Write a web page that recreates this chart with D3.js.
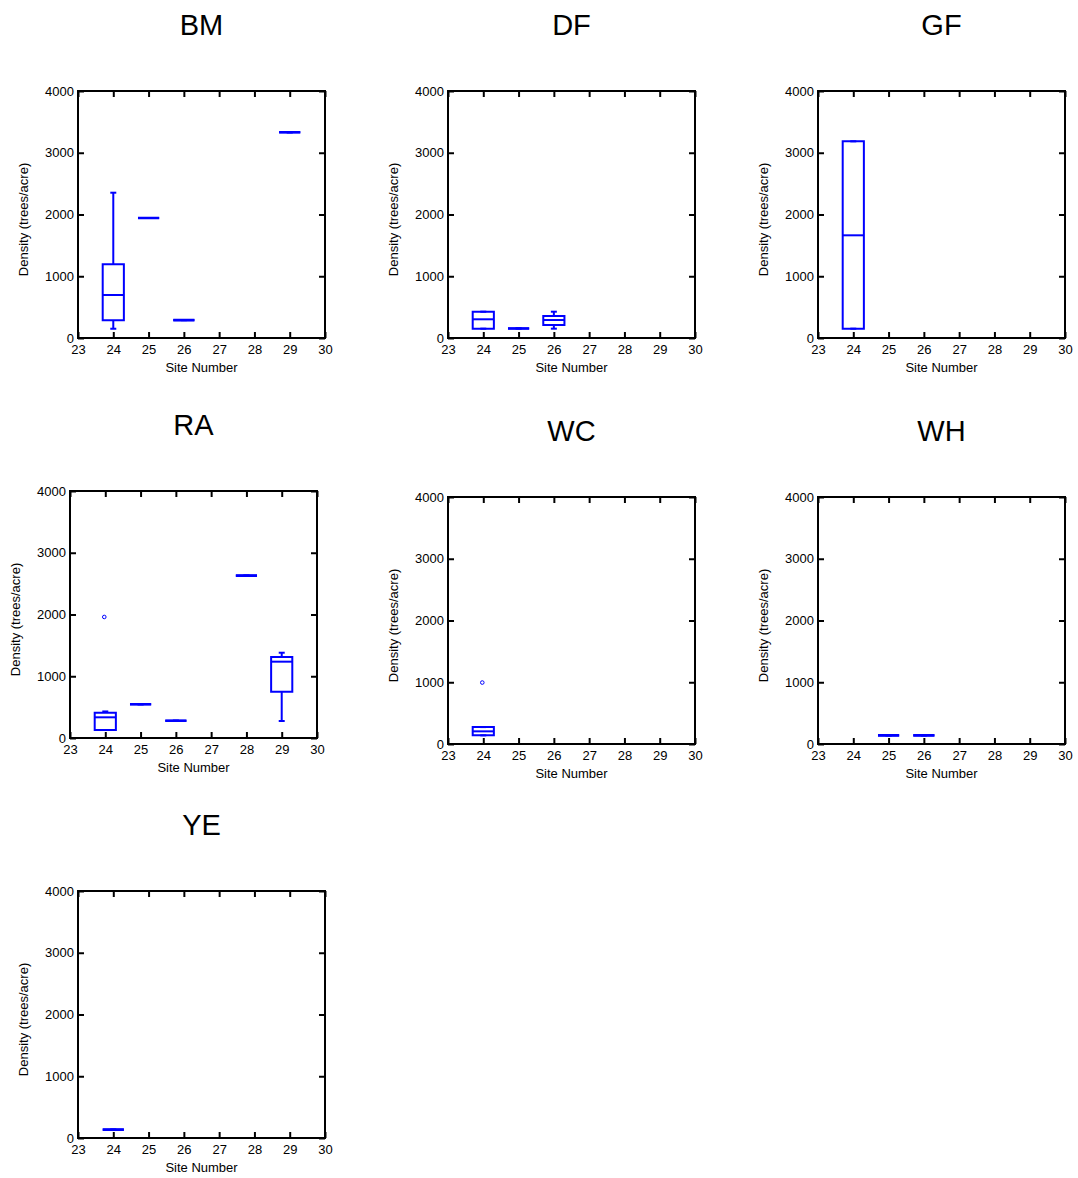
<!DOCTYPE html>
<html>
<head>
<meta charset="utf-8">
<script src="https://cdn.jsdelivr.net/npm/d3@7"></script>
<style>
  body { margin: 0; background: #fff; }
  text { font-family: "Liberation Sans", Arial, sans-serif; }
</style>
</head>
<body>
<div id="plot"></div>
<script>
// site ticks and density ticks
var siteTicks = [23, 24, 25, 26, 27, 28, 29, 30];
var densityTicks = [0, 1000, 2000, 3000, 4000];
var species = ["BM", "DF", "GF", "RA", "WC", "WH", "YE"];

// box stats per species: site, lower whisker, q1, median, q3, upper whisker, outliers
var BM = [
  { site: 24, lo: 150, q1: 287, med: 696, q3: 1193, hi: 2353, out: [] },
  { site: 25, lo: 1943, q1: 1943, med: 1943, q3: 1943, hi: 1943, out: [] },
  { site: 26, lo: 290, q1: 290, med: 290, q3: 290, hi: 290, out: [] },
  { site: 29, lo: 3331, q1: 3331, med: 3331, q3: 3331, hi: 3331, out: [] }
];
var DF = [
  { site: 24, lo: 151, q1: 151, med: 303, q3: 426, hi: 426, out: [] },
  { site: 25, lo: 155, q1: 155, med: 155, q3: 155, hi: 155, out: [] },
  { site: 26, lo: 151, q1: 210, med: 291, q3: 356, hi: 426, out: [] }
];
var GF = [
  { site: 24, lo: 151, q1: 151, med: 1663, q3: 3185, hi: 3185, out: [] }
];
var RA = [
  { site: 24, lo: 130, q1: 130, med: 335, q3: 410, hi: 430, out: [1960] },
  { site: 25, lo: 546, q1: 546, med: 546, q3: 546, hi: 546, out: [] },
  { site: 26, lo: 280, q1: 280, med: 280, q3: 280, hi: 280, out: [] },
  { site: 28, lo: 2630, q1: 2630, med: 2630, q3: 2630, hi: 2630, out: [] },
  { site: 29, lo: 275, q1: 750, med: 1236, q3: 1312, hi: 1381, out: [] }
];
var WC = [
  { site: 24, lo: 140, q1: 140, med: 205, q3: 274, hi: 274, out: [995] }
];
var WH = [
  { site: 25, lo: 140, q1: 140, med: 140, q3: 140, hi: 140, out: [] },
  { site: 26, lo: 140, q1: 140, med: 140, q3: 140, hi: 140, out: [] }
];
var YE = [
  { site: 24, lo: 136, q1: 136, med: 136, q3: 136, hi: 136, out: [] }
];
var stats = { BM: BM, DF: DF, GF: GF, RA: RA, WC: WC, WH: WH, YE: YE };

var view = {
  w: 1078, h: 1178,
  size: 247,
  // plot origins (left, top) for each panel
  panels: {
    BM: [78, 91], DF: [448, 91], GF: [818, 91],
    RA: [70, 491], WC: [448, 497], WH: [818, 497],
    YE: [78, 891]
  }
};

var svg = d3.select("#plot")
            .append("svg")
            .attr("width", view.w)
            .attr("height", view.h);

var xScale = d3.scaleLinear().domain([23, 30]).range([0, view.size]),
    yScale = d3.scaleLinear().domain([0, 4000]).range([view.size, 0]);

var blue = "#0000ff",
    boxW = xScale(23.6) - xScale(23),
    capW = 3,
    fmt = d3.format("d");

species.forEach(function(name){
  var pos = view.panels[name];
  var g = svg.append("g")
             .attr("transform", "translate(" + pos[0] + "," + pos[1] + ")");

  // title
  g.append("text")
    .attr("x", view.size / 2)
    .attr("y", -56)
    .attr("text-anchor", "middle")
    .style("font-size", "29px")
    .text(name);

  // axes with inward ticks
  var ax = [
    { a: d3.axisBottom(xScale).tickValues(siteTicks).tickSize(-6).tickPadding(7).tickFormat(fmt), t: [0, view.size] },
    { a: d3.axisTop(xScale).tickValues(siteTicks).tickSize(-6).tickFormat(""), t: [0, 0] },
    { a: d3.axisLeft(yScale).tickValues(densityTicks).tickSize(-6).tickPadding(4).tickFormat(fmt), t: [0, 0] },
    { a: d3.axisRight(yScale).tickValues(densityTicks).tickSize(-6).tickFormat(""), t: [view.size, 0] }
  ];
  ax.forEach(function(d){
    var ag = g.append("g")
              .attr("transform", "translate(" + d.t[0] + "," + d.t[1] + ")")
              .call(d.a);
    ag.select(".domain").remove();
    ag.selectAll(".tick line").attr("stroke", "#000").attr("stroke-width", 2);
    ag.selectAll(".tick text")
      .attr("fill", "#000")
      .style("font-size", "13px")
      .style("font-family", "'Liberation Sans', Arial, sans-serif");
  });

  g.append("rect")
    .attr("width", view.size)
    .attr("height", view.size)
    .attr("fill", "none")
    .attr("stroke", "#000")
    .attr("stroke-width", 2);

  g.append("text")
    .attr("x", view.size / 2)
    .attr("y", view.size + 34)
    .attr("text-anchor", "middle")
    .style("font-size", "13px")
    .text("Site Number");

  g.append("text")
    .attr("transform", "translate(-50," + (view.size / 2 + 5) + ") rotate(-90)")
    .attr("text-anchor", "middle")
    .style("font-size", "13px")
    .text("Density (trees/acre)");

  // boxes
  var boxes = g.selectAll(".box")
    .data(stats[name])
    .enter().append("g")
    .attr("class", "box")
    .attr("fill", "none")
    .attr("stroke", blue)
    .attr("stroke-width", 2);

  boxes.append("line")
    .attr("x1", function(d){ return xScale(d.site); })
    .attr("x2", function(d){ return xScale(d.site); })
    .attr("y1", function(d){ return yScale(d.hi); })
    .attr("y2", function(d){ return yScale(d.q3); });
  boxes.append("line")
    .attr("x1", function(d){ return xScale(d.site); })
    .attr("x2", function(d){ return xScale(d.site); })
    .attr("y1", function(d){ return yScale(d.q1); })
    .attr("y2", function(d){ return yScale(d.lo); });
  boxes.append("line")
    .attr("x1", function(d){ return xScale(d.site) - capW; })
    .attr("x2", function(d){ return xScale(d.site) + capW; })
    .attr("y1", function(d){ return yScale(d.hi); })
    .attr("y2", function(d){ return yScale(d.hi); });
  boxes.append("line")
    .attr("x1", function(d){ return xScale(d.site) - capW; })
    .attr("x2", function(d){ return xScale(d.site) + capW; })
    .attr("y1", function(d){ return yScale(d.lo); })
    .attr("y2", function(d){ return yScale(d.lo); });

  boxes.append("path")
    .attr("stroke-width", function(d){ return d.q1 === d.q3 ? 2.6 : 2; })
    .attr("d", function(d){
      var x0 = xScale(d.site) - boxW / 2, x1 = xScale(d.site) + boxW / 2,
          y0 = yScale(d.q3), y1 = yScale(d.q1);
      return "M" + x0 + "," + y0 + "H" + x1 + "V" + y1 + "H" + x0 + "Z";
    });
  boxes.append("line")
    .attr("x1", function(d){ return xScale(d.site) - boxW / 2; })
    .attr("x2", function(d){ return xScale(d.site) + boxW / 2; })
    .attr("y1", function(d){ return yScale(d.med); })
    .attr("y2", function(d){ return yScale(d.med); });

  boxes.selectAll(".outlier")
    .data(function(d){ return d.out.map(function(v){ return { site: d.site, v: v }; }); })
    .enter().append("circle")
    .attr("class", "outlier")
    .attr("cx", function(d){ return xScale(d.site) - 1; })
    .attr("cy", function(d){ return yScale(d.v); })
    .attr("r", 1.8)
    .attr("stroke-width", 1);
});
</script>
</body>
</html>
